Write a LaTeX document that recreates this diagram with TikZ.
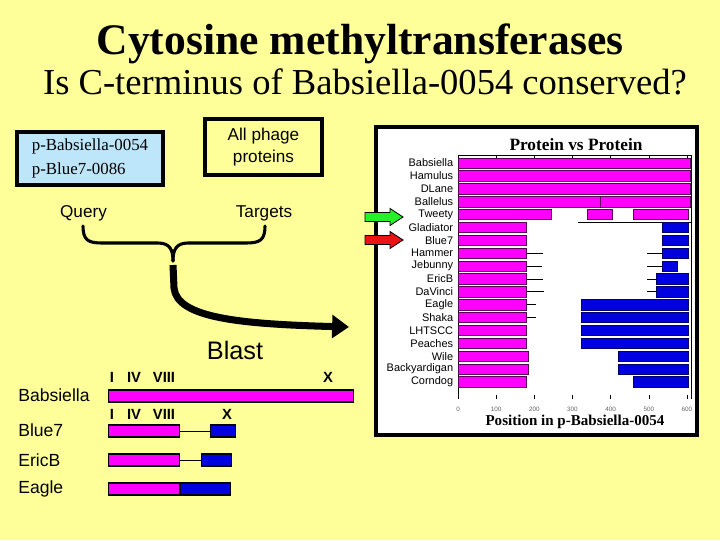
\documentclass[tikz,border=0pt]{standalone}
\usepackage{fontspec}
\setmainfont{Liberation Serif}
\setsansfont{Liberation Sans}
\usepackage{tikz}
\usetikzlibrary{arrows.meta, positioning, calc}
\usepackage{xcolor}
\definecolor{slideyellow}{RGB}{255,255,153}
\definecolor{querycyan}{RGB}{190,230,250}
\definecolor{hitmagenta}{RGB}{255,0,255}
\definecolor{hitblue}{RGB}{0,0,225}
\definecolor{hitgreen}{RGB}{40,240,40}
\definecolor{hitred}{RGB}{235,20,20}

% block arrow: tip x, tip y, colour
\newcommand{\hitarrow}[3]{%
  \filldraw[fill=#3, draw=black, line width=0.6pt]
    (#1-38,#2-4.5) -- (#1-13,#2-4.5) -- (#1-13,#2-8.5) -- (#1,#2)
    -- (#1-13,#2+8.5) -- (#1-13,#2+4.5) -- (#1-38,#2+4.5) -- cycle;}

\begin{document}
\begin{tikzpicture}[
    x=0.025cm, y=-0.025cm,
    lbl/.style={font=\sffamily\fontsize{12.2}{14.5}\selectfont, inner sep=0pt},
    boxed/.style={draw=black, line width=2.2pt, inner sep=0pt},
    mbar/.style={draw=black, fill=hitmagenta, line width=0.8pt,
                 minimum height=0.3cm, inner sep=0pt, anchor=west},
    bbar/.style={mbar, fill=hitblue},
    roman/.style={font=\sffamily\bfseries\fontsize{10.5}{11}\selectfont, inner sep=0pt},
    rowlab/.style={font=\sffamily\fontsize{7.8}{8}\selectfont, anchor=east, inner sep=0pt},
    ticklab/.style={font=\sffamily\fontsize{4.5}{5}\selectfont, text=black!60, inner sep=0pt},
    chm/.style={fill=hitmagenta, draw=violet!70!black, line width=0.4pt},
    chb/.style={fill=hitblue, draw=blue!40!black, line width=0.4pt},
    brace/.style={line width=2.2pt, line cap=round},
    blast/.style={line width=5pt, -{Triangle[length=12pt,width=16pt]}},
]
    \fill[slideyellow] (0,0) rectangle (720,540);
    \useasboundingbox (0,0) rectangle (720,540);

    % titles
    \node[font=\bfseries\fontsize{31}{36}\selectfont, anchor=base] (title) at (360,54)
        {Cytosine methyltransferases};
    \node[font=\fontsize{26}{30}\selectfont, anchor=base] (subtitle) at (365,94)
        {Is C-terminus of Babsiella-0054 conserved?};

    % query and targets
    \node[boxed, fill=querycyan, minimum width=3.65cm, minimum height=1.325cm,
          align=left, font=\fontsize{12}{16.5}\selectfont] (query) at (90,158.5)
        {p-Babsiella-0054\\p-Blue7-0086};
    \node[boxed, minimum width=2.925cm, minimum height=1.4cm, align=center,
          font=\sffamily\fontsize{12.2}{16}\selectfont] (targets) at (263.5,147)
        {All phage\\proteins};

    \node[lbl] (qlab) at (83.5,213) {Query};
    \node[lbl] (tlab) at (264,213) {Targets};

    \coordinate (qend) at (83,226);
    \coordinate (tend) at (265,226);
    \coordinate (join) at (173,261);
    \coordinate (blaststart) at (173,265);
    \coordinate (blastend) at (349,327);

    \draw[brace] (qend) .. controls (83,240) and (88,243) .. (102,243)
        -- (158,243) .. controls (170,243) and (173,250) .. (join);
    \draw[brace] (tend) .. controls (265,240) and (260,243) .. (246,243)
        -- (188,243) .. controls (176,243) and (173,250) .. (join);
    \draw[blast] (blaststart) -- (174,288) .. controls (177,318) and (240,324) .. (blastend);

    \node[font=\sffamily\fontsize{18}{20}\selectfont] (blastlab) at (235,350) {Blast};

    % domain sketch
    \node[lbl, font=\sffamily\fontsize{12.5}{14}\selectfont, anchor=west] (lbabs) at (18,395) {Babsiella};
    \node[lbl, font=\sffamily\fontsize{12.5}{14}\selectfont, anchor=west] (lblue) at (18,430) {Blue7};
    \node[lbl, font=\sffamily\fontsize{12.5}{14}\selectfont, anchor=west] (leric) at (18,460) {EricB};
    \node[lbl, font=\sffamily\fontsize{12.5}{14}\selectfont, anchor=west] (leagle) at (18,489) {Eagle};

    \node[mbar, minimum width=6.125cm] (babsm) at (108,396) {};
    \node[mbar, minimum width=1.775cm] (bluem) at (108,431) {};
    \node[bbar, minimum width=0.625cm] (blueb) at (210,431) {};
    \node[mbar, minimum width=1.775cm] (ericm) at (108,460) {};
    \node[bbar, minimum width=0.75cm] (ericb) at (201,460) {};
    \node[mbar, minimum width=1.775cm] (eaglem) at (108,489) {};
    \node[bbar, minimum width=1.25cm, right=0pt of eaglem] (eagleb) {};
    \draw[line width=0.6pt] (bluem.east) -- (blueb.west);
    \draw[line width=0.6pt] (ericm.east) -- (ericb.west);

    \foreach \y/\n/\xx in {377/a/328, 414/b/227} {
        \node[roman] (one\n) at (112,\y) {I};
        \node[roman] (four\n) at (134,\y) {IV};
        \node[roman] (eight\n) at (164,\y) {VIII};
        \node[roman] (ten\n) at (\xx,\y) {X};
    }

    % blast hit chart
    \filldraw[fill=white, draw=black, line width=3pt] (376,127) rectangle (697,435);
    \node[font=\bfseries\fontsize{12.3}{14}\selectfont] (charttitle) at (576,145) {Protein vs Protein};
    \node[font=\bfseries\fontsize{10.7}{12}\selectfont] (xlab) at (575,422) {Position in p-Babsiella-0054};

    \begin{scope}[shift={(458,0)}, x=0.009543cm]
        \draw[line width=0.3pt] (0,155) -- (0,399);
        \draw[line width=0.3pt] (0,155) -- (612,155) -- (612,399);
        \draw[line width=0.4pt] (315,222) -- (612,222);
        \foreach \t in {0,100,...,600} {
            \draw[line width=0.3pt] (\t,155) -- (\t,158);
            \draw[line width=0.3pt] (\t,399) -- (\t,395);
            \node[ticklab] at (\t,409) {\t};
        }
        \foreach \i/\lab in {0/Babsiella, 1/Hamulus, 2/DLane, 3/Ballelus, 4/Tweety,
                5/Gladiator, 6/Blue7, 7/Hammer, 8/Jebunny, 9/EricB, 10/DaVinci,
                11/Eagle, 12/Shaka, 13/LHTSCC, 14/Peaches, 15/Wile,
                16/Backyardigan, 17/Corndog}
            \node[rowlab] (row\i) at (-12,163+12.88*\i) {\lab};
        \foreach \i/\a/\b in {0/0/610, 1/0/610, 2/0/610, 3/0/372, 3/374/610,
                4/0/245, 4/340/405, 4/460/603, 5/0/180, 6/0/180, 7/0/180, 8/0/180,
                9/0/180, 10/0/180, 11/0/180, 12/0/180, 13/0/180, 14/0/180,
                15/0/183, 16/0/183, 17/0/180}
            \filldraw[chm] (\a,163+12.88*\i-5.2) rectangle (\b,163+12.88*\i+5.2);
        \foreach \i/\a/\b in {5/535/603, 6/535/603, 7/535/603, 8/535/574,
                9/520/603, 10/520/603, 11/322/603, 12/322/603, 13/322/603,
                14/322/603, 15/420/603, 16/420/603, 17/460/603}
            \filldraw[chb] (\a,163+12.88*\i-5.2) rectangle (\b,163+12.88*\i+5.2);
        \foreach \i/\a/\b in {7/180/223, 7/495/535, 8/180/220, 8/495/535,
                9/180/222, 9/495/520, 10/180/225, 10/495/520, 11/180/205, 12/180/205}
            \draw[line width=0.5pt] (\a,163+12.88*\i) -- (\b,163+12.88*\i);
    \end{scope}

    \hitarrow{403}{217}{hitgreen}
    \hitarrow{403}{240}{hitred}
\end{tikzpicture}
\end{document}
